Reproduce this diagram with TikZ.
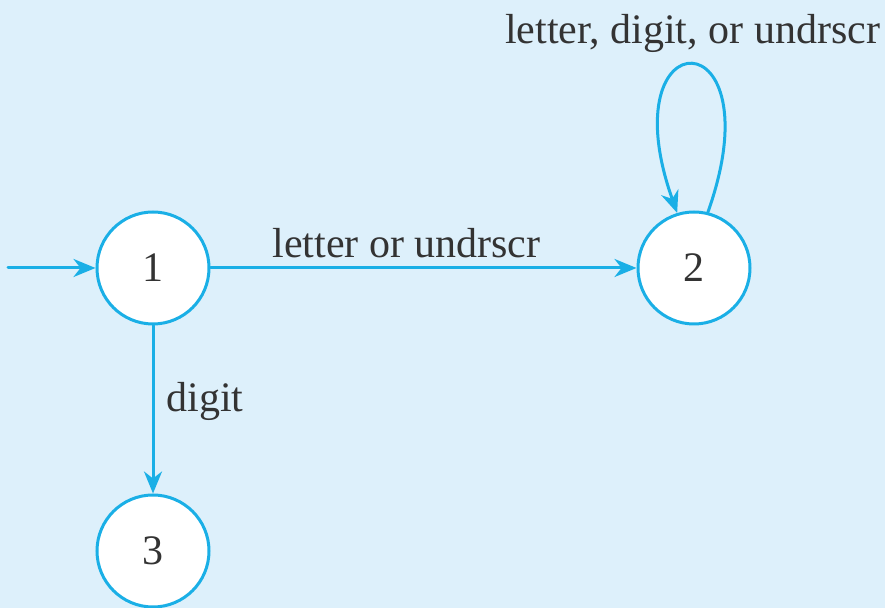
\documentclass[tikz,border=0pt]{standalone}
\usepackage{fontspec}
\setmainfont{Liberation Serif}
\usepackage{tikz}
\usetikzlibrary{arrows.meta}
\definecolor{bg}{HTML}{DDF0FB}
\definecolor{wire}{HTML}{1AAFE6}
\definecolor{ink}{HTML}{333333}
\tikzset{
  state/.style={circle, draw=wire, fill=white, line width=1.5pt, minimum size=56pt, inner sep=0pt, text=ink, font=\fontsize{21}{25}\selectfont},
  trans/.style={draw=wire, line width=1.5pt, line cap=round, -{Stealth[length=11pt,width=9pt,inset=3.5pt]}},
  lab/.style={text=ink, font=\fontsize{21}{25}\selectfont},
}

\begin{document}
\begin{tikzpicture}[x=0.5pt,y=-0.5pt]
  \fill[bg] (0,0) rectangle (885,608);
  \useasboundingbox (0,0) rectangle (885,608);
  \node[state] (s1) at (153,268) {1};
  \node[state] (s2) at (694,268) {2};
  \node[state] (s3) at (153,551) {3};
  \coordinate (start) at (8,268);
  \draw[trans] (start) -- (s1);
  \draw[trans] (s1) -- node[lab, above, pos=0.46, inner sep=4.5pt] {letter or undrscr} (s2);
  \draw[trans] (s1) -- node[lab, right, pos=0.45, inner sep=6pt] {digit} (s3);
  \draw[trans] (s2.76) .. controls +(70,-197) and +(-70,-197) .. node[lab, above, inner sep=5.5pt] {letter, digit, or undrscr} (s2.107);
\end{tikzpicture}
\end{document}
